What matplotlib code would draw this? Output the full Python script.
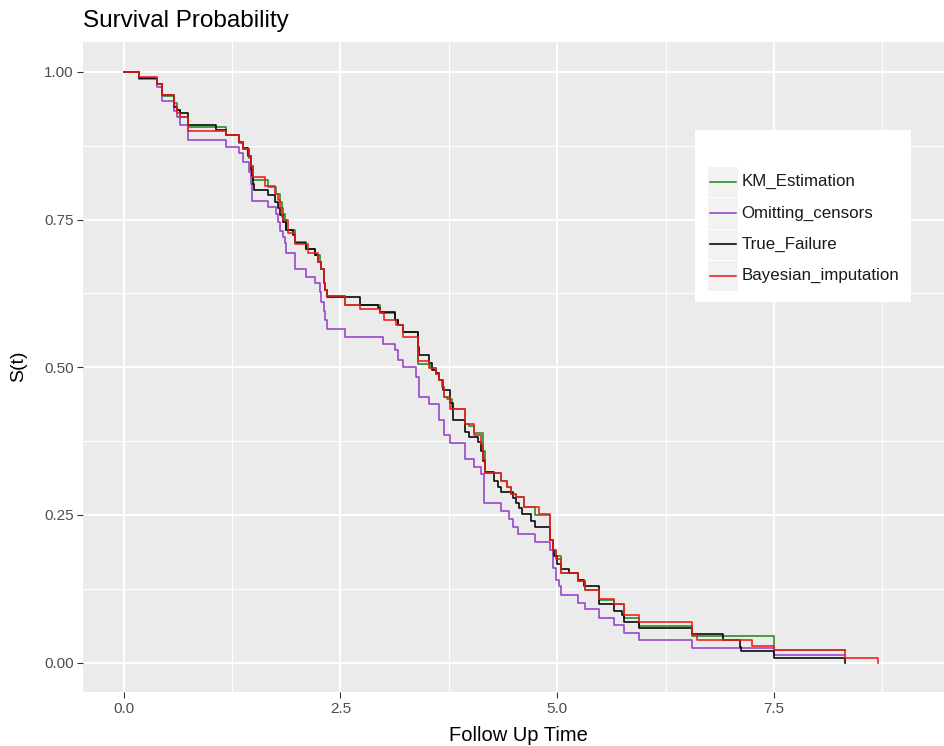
import matplotlib.pyplot as plt
from matplotlib.patches import Rectangle

# step data (time, survival after the step)
km_time = [0, 0.182, 0.382, 0.439, 0.581, 0.619, 0.650, 0.746, 1.179, 1.333,
           1.379, 1.444, 1.468, 1.488, 1.667, 1.761, 1.801, 1.821, 1.842, 1.862,
           1.878, 1.973, 2.104, 2.205, 2.26, 2.276, 2.306, 2.326, 2.346, 2.548,
           2.952, 3.124, 3.164, 3.22, 3.392, 3.528, 3.603, 3.639, 3.669, 3.699,
           3.729, 3.79, 3.931, 3.987, 4.042, 4.143, 4.164, 4.355, 4.426, 4.466,
           4.527, 4.618, 4.739, 4.911, 4.946, 4.984, 5.042, 5.234, 5.315, 5.486,
           5.658, 5.769, 5.94, 6.556, 7.495, 8.313]
km_surv = [1.0, 0.99, 0.979, 0.959, 0.948, 0.935, 0.924, 0.907, 0.893, 0.88,
           0.869, 0.855, 0.84, 0.817, 0.805, 0.794, 0.78, 0.769, 0.76, 0.75,
           0.733, 0.712, 0.70, 0.69, 0.678, 0.667, 0.642, 0.63, 0.621, 0.605,
           0.592, 0.58, 0.571, 0.559, 0.505, 0.499, 0.489, 0.478, 0.467, 0.45,
           0.447, 0.43, 0.404, 0.40, 0.388, 0.359, 0.321, 0.308, 0.297, 0.286,
           0.28, 0.263, 0.25, 0.207, 0.19, 0.181, 0.152, 0.139, 0.123, 0.106,
           0.0995, 0.0757, 0.062, 0.045, 0.021, 0.021]

omit_time = [0, 0.182, 0.382, 0.439, 0.581, 0.619, 0.650, 0.746, 1.179, 1.333,
             1.379, 1.444, 1.468, 1.482, 1.667, 1.761, 1.781, 1.801, 1.842, 1.862,
             1.878, 1.973, 2.104, 2.205, 2.26, 2.276, 2.306, 2.326, 2.346, 2.548,
             2.992, 3.124, 3.164, 3.22, 3.376, 3.411, 3.517, 3.639, 3.699, 3.76,
             3.931, 4.042, 4.123, 4.16, 4.355, 4.446, 4.487, 4.543, 4.739, 4.911,
             4.946, 4.984, 5.022, 5.042, 5.234, 5.315, 5.486, 5.658, 5.769, 5.94,
             6.556, 7.495, 8.313]
omit_surv = [1.0, 0.9875, 0.975, 0.95, 0.933, 0.924, 0.91, 0.885, 0.872, 0.862,
             0.847, 0.83, 0.81, 0.782, 0.772, 0.76, 0.745, 0.73, 0.72, 0.71,
             0.693, 0.667, 0.653, 0.642, 0.628, 0.61, 0.595, 0.58, 0.564, 0.551,
             0.54, 0.529, 0.513, 0.50, 0.483, 0.449, 0.437, 0.41, 0.385, 0.372,
             0.345, 0.331, 0.32, 0.27, 0.257, 0.243, 0.229, 0.218, 0.205, 0.19,
             0.16, 0.14, 0.13, 0.115, 0.101, 0.09, 0.076, 0.064, 0.05, 0.038,
             0.025, 0.013, 0.013]

true_time = [0, 0.182, 0.382, 0.439, 0.581, 0.619, 0.650, 0.746, 1.064, 1.179,
             1.333, 1.379, 1.438, 1.468, 1.478, 1.488, 1.508, 1.667, 1.744, 1.781,
             1.801, 1.842, 1.878, 1.953, 1.973, 2.104, 2.205, 2.245, 2.276, 2.306,
             2.326, 2.346, 2.72, 2.932, 2.952, 3.124, 3.164, 3.22, 3.392, 3.411,
             3.517, 3.558, 3.603, 3.639, 3.679, 3.76, 3.80, 3.931, 3.987, 4.083,
             4.123, 4.143, 4.164, 4.275, 4.315, 4.355, 4.487, 4.527, 4.562, 4.598,
             4.699, 4.739, 4.911, 4.946, 4.965, 5.002, 5.042, 5.138, 5.244, 5.31,
             5.476, 5.656, 5.749, 5.769, 5.94, 6.556, 6.91, 7.112, 7.122, 7.495,
             8.313]
true_surv = [1.0, 0.99, 0.979, 0.961, 0.941, 0.936, 0.931, 0.91, 0.902, 0.893,
             0.882, 0.871, 0.857, 0.834, 0.823, 0.811, 0.80, 0.792, 0.78, 0.769,
             0.758, 0.746, 0.732, 0.724, 0.711, 0.70, 0.69, 0.678, 0.667, 0.642,
             0.63, 0.619, 0.606, 0.60, 0.594, 0.58, 0.571, 0.56, 0.534, 0.52,
             0.507, 0.495, 0.49, 0.478, 0.461, 0.439, 0.41, 0.39, 0.382, 0.373,
             0.359, 0.342, 0.323, 0.308, 0.297, 0.289, 0.278, 0.27, 0.261, 0.252,
             0.24, 0.229, 0.207, 0.19, 0.181, 0.167, 0.159, 0.151, 0.14, 0.129,
             0.10, 0.088, 0.08, 0.068, 0.059, 0.049, 0.039, 0.026, 0.019, 0.008,
             0.0]

bayes_time = [0, 0.182, 0.382, 0.439, 0.581, 0.619, 0.650, 0.746, 1.179, 1.333,
              1.379, 1.444, 1.468, 1.494, 1.630, 1.744, 1.781, 1.801, 1.821, 1.842,
              1.897, 1.973, 2.124, 2.245, 2.276, 2.306, 2.326, 2.346, 2.548, 2.72,
              2.952, 3.003, 3.144, 3.22, 3.392, 3.517, 3.603, 3.639, 3.679, 3.699,
              3.76, 3.931, 4.042, 4.123, 4.143, 4.164, 4.355, 4.426, 4.466, 4.527,
              4.618, 4.79, 4.911, 4.946, 4.984, 5.042, 5.234, 5.315, 5.486, 5.658,
              5.769, 5.94, 6.556, 6.617, 7.243, 7.495, 8.313, 8.697]
bayes_surv = [1.0, 0.991, 0.979, 0.96, 0.943, 0.93, 0.924, 0.90, 0.893, 0.882,
              0.87, 0.857, 0.84, 0.822, 0.806, 0.794, 0.783, 0.769, 0.755, 0.749,
              0.727, 0.708, 0.693, 0.678, 0.667, 0.642, 0.63, 0.621, 0.606, 0.599,
              0.591, 0.58, 0.571, 0.551, 0.51, 0.499, 0.489, 0.478, 0.467, 0.45,
              0.43, 0.4045, 0.385, 0.37, 0.345, 0.321, 0.308, 0.297, 0.286, 0.28,
              0.263, 0.252, 0.207, 0.19, 0.175, 0.152, 0.139, 0.123, 0.108, 0.0995,
              0.081, 0.068, 0.047, 0.038, 0.029, 0.022, 0.008, 0.0]

labels = ['KM_Estimation', 'Omitting_censors', 'True_Failure', 'Bayesian_imputation']
colors = ['#1C8C1C', '#9241CC', '#000000', '#EE1C1C']

x_ticks = [0.0, 2.5, 5.0, 7.5]
y_ticks = [0.0, 0.25, 0.5, 0.75, 1.0]

plt.rcParams['font.family'] = ['Liberation Sans', 'DejaVu Sans']

W, H = 944, 746
fig = plt.figure(figsize=(W / 100, H / 100), dpi=100)
ax = fig.add_axes([83.3 / W, 1 - 692.2 / H, 1 - 83.3 / W, (692.2 - 42.3) / H])
ax.set_facecolor('#EBEBEB')
for sp in ax.spines.values():
    sp.set_visible(False)

ax.set_xlim(-0.465, 9.46)
ax.set_ylim(-0.05, 1.05)
ax.set_xticks(x_ticks)
ax.set_xticklabels(['%.1f' % v for v in x_ticks])
ax.set_yticks(y_ticks)
ax.set_yticklabels(['%.2f' % v for v in y_ticks])
ax.set_xticks([1.25, 3.75, 6.25, 8.75], minor=True)
ax.set_yticks([0.125, 0.375, 0.625, 0.875], minor=True)
ax.grid(which='major', color='white', lw=1.4)
ax.grid(which='minor', color='white', lw=0.7)
ax.set_axisbelow(True)
ax.tick_params(which='minor', length=0)
ax.tick_params(which='major', length=4, width=0.8, color='#333333',
               labelcolor='#4D4D4D', labelsize=11, pad=3)

series = [(km_time, km_surv), (omit_time, omit_surv),
          (true_time, true_surv), (bayes_time, bayes_surv)]
for (t, s), c in zip(series, colors):
    ax.step(t, s, where='post', color=c, lw=1.15)

fig.text(83.3 / W, 1 - 26.7 / H, 'Survival Probability', fontsize=17.5,
         ha='left', va='baseline')
fig.text(518 / W, 1 - 741 / H, 'Follow Up Time', fontsize=14.5,
         ha='center', va='baseline')
fig.text(18.3 / W, 1 - 366 / H, 'S(t)', fontsize=14, rotation=90,
         ha='center', va='center')

# legend box, drawn in pixel units
lx0, lx1, ly0, ly1 = 695, 910.7, 130, 301.7
lax = fig.add_axes([lx0 / W, 1 - ly1 / H, (lx1 - lx0) / W, (ly1 - ly0) / H])
lax.set_xlim(lx0, lx1)
lax.set_ylim(ly1, ly0)
lax.set_facecolor('white')
lax.set_xticks([])
lax.set_yticks([])
for sp in lax.spines.values():
    sp.set_visible(False)
row_h = 31.3
for i, (lab, c) in enumerate(zip(labels, colors)):
    y0 = 166 + i * row_h
    lax.add_patch(Rectangle((707.3, y0), 30.4, row_h, fc='#F2F2F2', ec='white', lw=0.8))
    yc = y0 + row_h / 2
    lax.plot([709.5, 735.5], [yc, yc], color=c, lw=1.15)
    lax.text(741.7, yc, lab, fontsize=12.2, ha='left', va='center', color='#1A1A1A')

fig.savefig('out.png', dpi=100)
